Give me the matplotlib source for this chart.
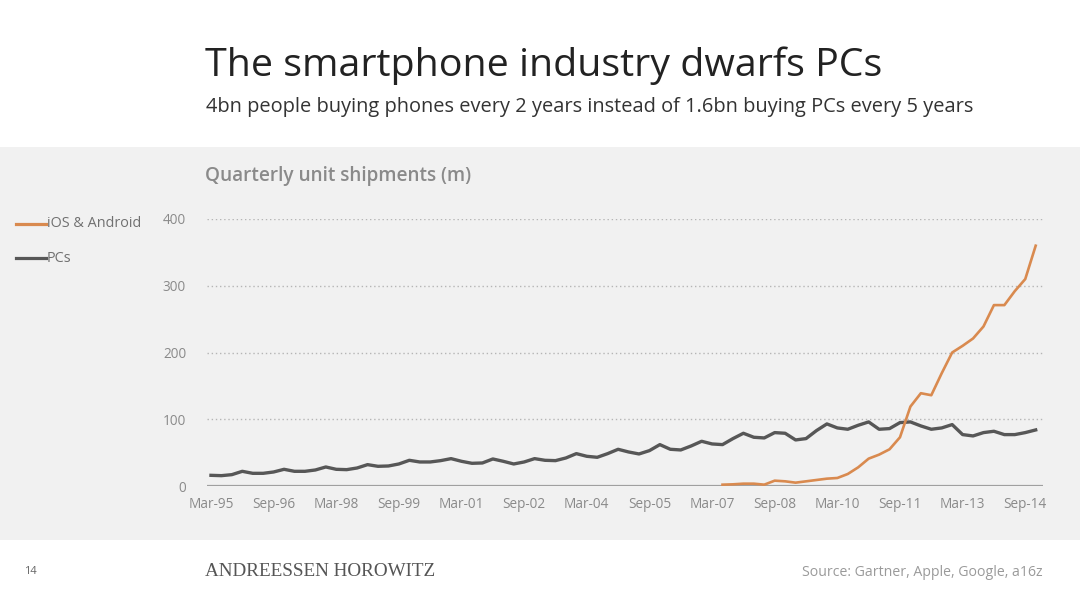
import numpy as np
import matplotlib
matplotlib.use("Agg")
import matplotlib.pyplot as plt

# quarterly shipments (m), Mar-95 .. Dec-14
pcs = [16, 15.5, 17, 22, 19, 19, 21, 25, 22, 22,
       24, 28.5, 25, 24.5, 27, 32, 29.5, 30, 33, 38.5,
       36, 36, 38, 41, 37, 34, 34.5, 40.5, 37, 33,
       36, 41, 38.5, 38, 42, 48.5, 44.5, 43, 48.5, 55,
       51, 48, 53, 62, 55, 54, 60, 67, 63, 62,
       71, 79, 73, 72, 80, 79, 69, 71, 83, 93,
       87, 85, 91, 96, 85, 86, 95, 96, 90, 85,
       87, 92, 77, 75, 80, 82, 77, 77, 80, 84]
smart_start = 49
smartphones = [2, 2.5, 3.5, 3.5, 2, 8, 7, 5, 7, 9,
               11, 12, 18, 28, 41, 47, 55, 73, 119, 139,
               136, 169, 200, 210, 221, 239, 271, 271, 292, 310,
               360]
tick_labels = ["Mar-95", "Sep-96", "Mar-98", "Sep-99", "Mar-01", "Sep-02", "Mar-04",
               "Sep-05", "Mar-07", "Sep-08", "Mar-10", "Sep-11", "Mar-13", "Sep-14"]
y_ticks = [0, 100, 200, 300, 400]

plt.rcParams['font.family'] = ['Open Sans', 'DejaVu Sans']

fig = plt.figure(figsize=(10.8, 6.05), dpi=100)
fig.patch.set_facecolor("white")
W, H = 1080, 605

def fit(t, width_px):
	# scale the font so the text spans the same width as in the slide
	r = fig.canvas.get_renderer()
	w = t.get_window_extent(r).width
	t.set_fontsize(t.get_fontsize() * width_px / w)

# gray band behind the chart
band = fig.add_axes([0, 1 - 540/H, 1, (540 - 147)/H])
band.set_facecolor("#f1f1f1")
band.set_xticks([]); band.set_yticks([])
for s in band.spines.values():
	s.set_visible(False)

ax = fig.add_axes([207/W, 1 - 486/H, (1043 - 207)/W, (486 - 219)/H])
ax.set_facecolor("none")

x = np.arange(len(pcs))
smart = np.full(len(pcs), np.nan)
smart[smart_start:smart_start + len(smartphones)] = smartphones

ax.plot(x, pcs, color="#575757", lw=2.4, solid_joinstyle="round", label="PCs", zorder=3)
ax.plot(x, smart, color="#d98a4f", lw=1.9, solid_joinstyle="round", label="iOS & Android", zorder=4)

ax.set_xlim(-0.38, 79.7)
ax.set_ylim(0, 400)
ax.set_yticks(y_ticks)
ax.set_yticklabels([str(v) for v in y_ticks])
ax.set_xticks(np.arange(0, 79, 6))
ax.set_xticklabels(tick_labels)
ax.tick_params(length=0, colors="#8a8a8a", labelsize=9.8)
ax.tick_params(axis="y", pad=15)
ax.tick_params(axis="x", pad=8)
for y in y_ticks[1:]:
	ax.axhline(y, color="#b5b5b5", lw=1, ls=(0, (1, 2)), zorder=1)
for s in ax.spines.values():
	s.set_visible(False)
ax.axhline(0, color="#a0a0a0", lw=1.6, zorder=2)

# legend drawn at left
fig.add_artist(plt.Line2D([16/W, 46/W], [1 - 224/H] * 2, color="#d98a4f", lw=2.3))
fig.add_artist(plt.Line2D([16/W, 46/W], [1 - 258/H] * 2, color="#575757", lw=2.3))
leg1 = fig.text(47/W, 1 - 224/H, "iOS & Android", fontsize=9.5, color="#707070", va="center")
leg2 = fig.text(47/W, 1 - 258/H, "PCs", fontsize=9.5, color="#707070", va="center")

title = fig.text(205/W, 1 - 66/H, "The smartphone industry dwarfs PCs", fontsize=26, color="#222222", va="center")
sub = fig.text(206/W, 1 - 107/H, "4bn people buying phones every 2 years instead of 1.6bn buying PCs every 5 years",
               fontsize=12.5, color="#333333", va="center")
ylab = fig.text(205/W, 1 - 176/H, "Quarterly unit shipments (m)", fontsize=13, color="#8a8a8a",
                va="center", fontweight="semibold")

fig.text(24/W, 1 - 572/H, "14", fontsize=8, color="#666666", va="center")
brand = fig.text(205/W, 1 - 571/H, "ANDREESSEN HOROWITZ", fontsize=12, color="#555555", va="center",
                 family="Liberation Serif")
src = fig.text(1043/W, 1 - 572/H, "Source: Gartner, Apple, Google, a16z", fontsize=9, color="#9a9a9a",
               va="center", ha="right")

fit(title, 678)
fit(sub, 769)
fit(ylab, 266)
fit(leg1, 95)
leg2.set_fontsize(leg1.get_fontsize())
fit(brand, 230)
fit(src, 243)

fig.savefig("out.png", dpi=100)
